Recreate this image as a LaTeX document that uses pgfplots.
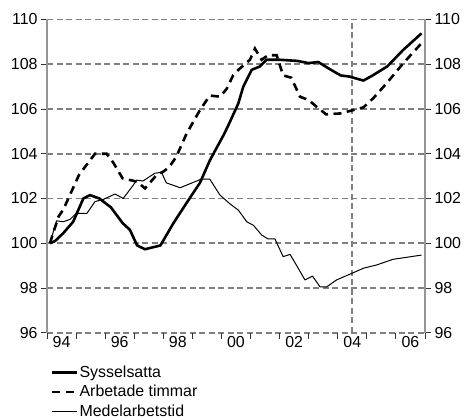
\documentclass[border=0pt]{standalone}
\usepackage{pgfplots}
\pgfplotsset{compat=1.18}
\usepackage{fontspec}
\setmainfont{Liberation Sans}
\definecolor{gridgray}{RGB}{128,128,128}
\definecolor{axgray}{RGB}{150,150,150}

\pgfplotstableread{
x y
1994.10 100.00
1994.28 100.10
1994.56 100.45
1994.90 100.96
1995.25 102.00
1995.48 102.15
1995.80 102.00
1996.20 101.60
1996.60 100.90
1996.85 100.60
1997.10 99.90
1997.37 99.73
1997.90 99.90
1998.35 100.90
1998.80 101.80
1999.26 102.70
1999.60 103.70
2000.10 104.90
2000.30 105.45
2000.58 106.25
2000.75 107.00
2001.04 107.75
2001.32 107.90
2001.55 108.20
2002.00 108.20
2002.60 108.15
2003.00 108.05
2003.33 108.10
2003.70 107.80
2004.10 107.50
2004.40 107.45
2004.88 107.27
2005.20 107.50
2005.70 107.90
2006.25 108.64
2006.88 109.38
}\syss

\pgfplotstableread{
x y
1994.10 100.00
1994.40 101.20
1994.56 101.50
1995.10 103.05
1995.65 104.00
1996.05 104.00
1996.28 103.60
1996.60 102.90
1997.10 102.75
1997.37 102.45
1997.77 103.05
1998.00 103.20
1998.20 103.40
1998.45 103.87
1998.80 104.90
1999.26 105.95
1999.60 106.60
1999.95 106.55
2000.18 106.90
2000.40 107.50
2000.58 107.75
2000.98 108.20
2001.15 108.70
2001.38 108.20
2001.60 108.40
2001.90 108.40
2002.12 107.50
2002.40 107.40
2002.70 106.55
2003.00 106.40
2003.27 106.10
2003.60 105.76
2004.08 105.80
2004.53 105.95
2004.88 106.07
2005.22 106.48
2005.68 107.15
2006.25 108.04
2006.88 108.94
}\arb

\pgfplotstableread{
x y
1994.10 100.00
1994.33 101.00
1994.56 100.96
1994.80 101.07
1995.00 101.33
1995.37 101.33
1995.65 101.86
1995.94 101.96
1996.34 102.20
1996.62 102.00
1996.97 102.60
1997.08 102.82
1997.30 102.78
1997.71 103.13
1997.94 103.17
1998.10 102.70
1998.58 102.48
1998.90 102.65
1999.30 102.86
1999.60 102.86
1999.95 102.15
2000.30 101.75
2000.58 101.48
2000.87 100.96
2001.10 100.80
2001.38 100.37
2001.60 100.19
2001.84 100.19
2002.12 99.40
2002.36 99.50
2002.64 98.88
2002.87 98.36
2003.13 98.53
2003.39 98.05
2003.62 98.05
2003.96 98.36
2004.53 98.68
2004.88 98.88
2005.34 99.03
2005.90 99.28
2006.37 99.37
2006.88 99.47
}\medel

\begin{document}
\begin{tikzpicture}
\path[use as bounding box] (0,0) rectangle (466bp,420bp);
\begin{axis}[
  at={(47bp,87.3bp)}, anchor=south west,
  scale only axis, width=378bp, height=313.2bp,
  xmin=1994, xmax=2007, ymin=96, ymax=110,
  axis y line*=left, axis x line*=bottom,
  x axis line style={draw=none},
  y axis line style={draw=axgray, line width=1.2bp},
  xtick={1994,...,2007}, xticklabels={},
  extra x ticks={1994.5,1996.5,1998.5,2000.5,2002.5,2004.5,2006.5},
  extra x tick labels={94,96,98,00,02,04,06},
  extra x tick style={major tick length=0pt, grid=none},
  ytick={96,98,...,110},
  ymajorgrids=true, xmajorgrids=false,
  grid style={draw=gridgray, line width=1.8bp, dash pattern=on 6bp off 3.5bp},
  tick align=outside, major tick length=6bp,
  tick style={draw=black!80, line width=0.8bp},
  ticklabel style={font=\fontsize{16}{18}\selectfont},
  /pgf/number format/assume math mode=true,
  clip=false,
  legend style={at={(rel axis cs:0.01,-0.102)}, anchor=north west, draw=none, fill=none,
    inner sep=0pt, font=\fontsize{16}{18}\selectfont, row sep=4.5bp,
    nodes={inner sep=1bp}},
  legend cell align=left,
  legend image code/.code={\draw[#1] (0bp,0bp) -- (25bp,0bp);},
]
\addplot[forget plot, draw=gridgray, line width=1.8bp, dash pattern=on 6bp off 3.5bp] coordinates {(2004.5,96) (2004.5,110)};
\addplot[black, line width=2.6bp, line join=round] table[x=x,y=y] {\syss};
\addlegendentry{Sysselsatta}
\addplot[black, line width=2.6bp, dash pattern=on 8bp off 5.5bp] table[x=x,y=y] {\arb};
\addlegendentry{Arbetade timmar}
\addplot[black, line width=1bp, line join=round] table[x=x,y=y] {\medel};
\addlegendentry{Medelarbetstid}
\end{axis}
\begin{axis}[
  at={(47bp,87.3bp)}, anchor=south west,
  scale only axis, width=378bp, height=313.2bp,
  xmin=1994, xmax=2007, ymin=96, ymax=110,
  axis y line*=right, axis x line=none,
  y axis line style={draw=axgray, line width=1.2bp},
  ytick={96,98,...,110}, yticklabel pos=right,
  tick align=outside, major tick length=6bp,
  tick style={draw=black!80, line width=0.8bp},
  ticklabel style={font=\fontsize{16}{18}\selectfont},
  /pgf/number format/assume math mode=true,
]
\addplot[draw=none, forget plot] coordinates {(1994,96) (2007,110)};
\end{axis}
\end{tikzpicture}
\end{document}
